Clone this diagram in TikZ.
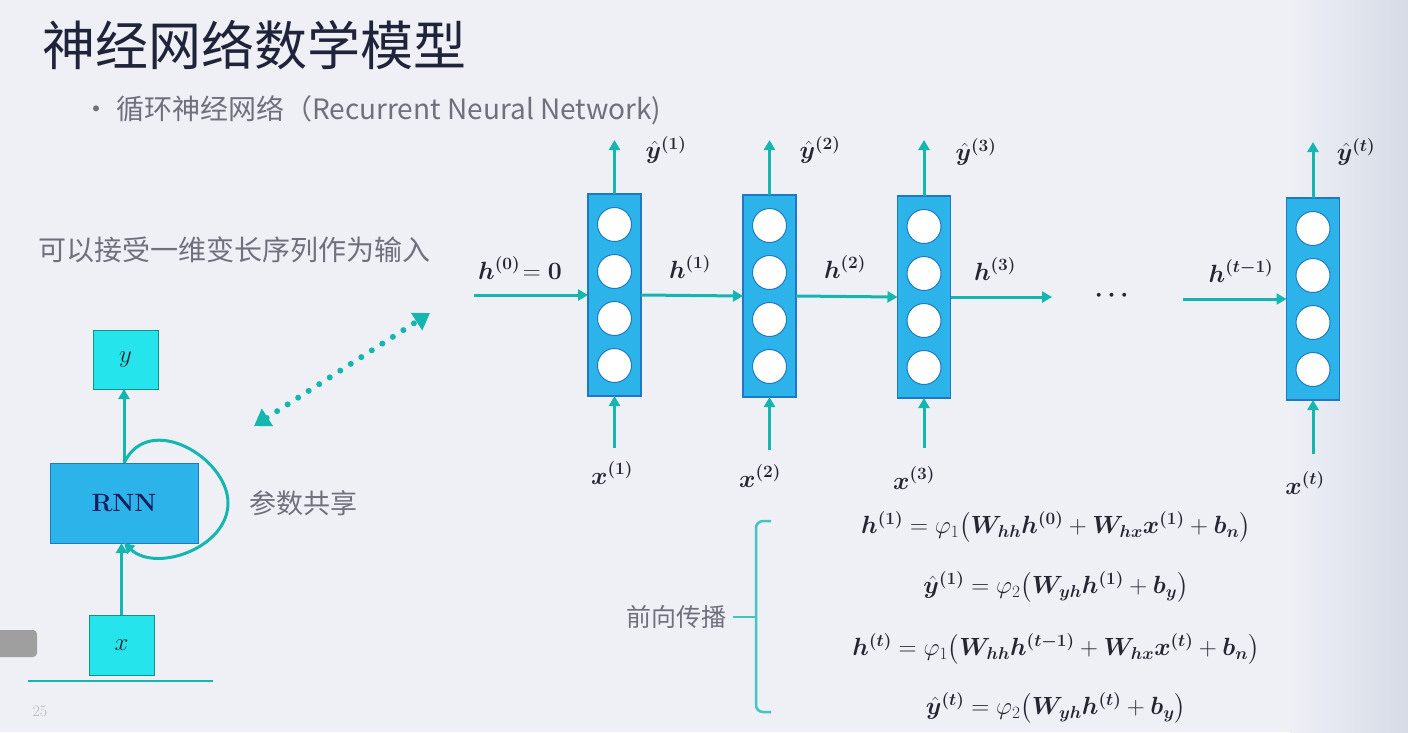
\documentclass[tikz,border=0pt]{standalone}
\usepackage{fontspec}
\usepackage{amsmath,bm}
\newfontfamily\cjk{Noto Sans CJK SC}
\usetikzlibrary{arrows.meta, positioning, calc}

\definecolor{bgl}{RGB}{238,240,246}
\definecolor{bgr}{RGB}{214,219,230}
\definecolor{teal}{RGB}{20,182,176}
\definecolor{cellfill}{RGB}{44,180,234}
\definecolor{cellline}{RGB}{30,120,195}
\definecolor{cyanbox}{RGB}{38,228,236}
\definecolor{titlec}{RGB}{32,36,58}
\definecolor{greyt}{RGB}{112,112,124}
\definecolor{mathc}{RGB}{38,38,50}
\definecolor{rnnc}{RGB}{18,30,95}

\newcommand{\vsup}[2]{\bm{#1}^{\bm{(#2)}}}
\newcommand{\yhat}[1]{\hat{\bm{y}}^{\bm{(#1)}}}

\begin{document}
\begin{tikzpicture}[x=1pt, y=-1pt,
  every node/.style={inner sep=0pt, outer sep=0pt},
  cell/.style={draw=cellline, line width=1.2pt, fill=cellfill,
               minimum width=53pt, minimum height=202pt},
  unit/.style={circle, draw=cellline, line width=1pt, fill=white, minimum size=34pt},
  sbox/.style={draw=teal!80!black, line width=0.8pt, fill=cyanbox,
               minimum width=65pt, minimum height=59pt,
               font=\fontsize{26}{30}\selectfont, text=mathc},
  wire/.style={line width=3pt, color=teal},
  arr/.style={wire, -{Triangle[length=10pt, width=11pt]}},
  dots/.style={color=teal, line width=6pt, line cap=round, dash pattern=on 0pt off 12.5pt,
               {Triangle[length=16pt, width=20pt]}-{Triangle[length=16pt, width=20pt]}},
  brace/.style={line width=2.5pt, color=teal!80!white, rounded corners=7pt},
  lbl/.style={font=\fontsize{25}{30}\selectfont, text=mathc},
  eq/.style={font=\fontsize{23}{28}\selectfont, text=mathc},
  txt/.style={font=\cjk\fontsize{27}{32}\selectfont, text=greyt}
]
\useasboundingbox (0,0) rectangle (1408,732);
% background
\fill[bgl] (0,0) rectangle (1408,732);
\shade[left color=bgl, right color=bgr] (1290,0) rectangle (1408,732);

% title and text
\node[anchor=west, font=\cjk\fontsize{53}{60}\selectfont, text=titlec] (title) at (42,45) {神经网络数学模型};
\node[anchor=west, font=\cjk\fontsize{28}{32}\selectfont, text=greyt] (sub) at (82,110)
  {•\ 循环神经网络（Recurrent Neural Network)};
\node[txt, anchor=west, font=\cjk\fontsize{28}{32}\selectfont] (note) at (38,250) {可以接受一维变长序列作为输入};
\node[txt, anchor=west] (share) at (249,503) {参数共享};

% folded rnn
\node[sbox] (yb) at (125.5,359.5) {$y$};
\node[draw=cellline, line width=0.8pt, fill=cellfill, minimum width=148pt, minimum height=80pt,
      font=\fontsize{25}{28}\selectfont\bfseries, text=rnnc] (rnn) at (124,503) {RNN};
\node[sbox, minimum height=60pt] (xb) at (121.5,645) {$x$};
\draw[arr] (xb.north) -- (xb.north |- rnn.south);
\draw[arr] (rnn.north) -- (rnn.north |- yb.south);
\coordinate (loopr) at ([xshift=30pt]rnn.east);
\draw[arr] (rnn.north) .. controls +(25,-52) and +(0,-45) .. (loopr)
  .. controls +(0,45) and +(32,30) .. (rnn.south);
\draw[teal, line width=1.6pt] (28,681) -- (213,681);
\node[font=\fontsize{16}{18}\selectfont, text=greyt!45!bgl] (page) at (40,711) {25};
\fill[gray!75, rounded corners=4pt] (-6,630) rectangle (37,657);

% dotted link
\coordinate (dl) at (254,426);
\coordinate (dr) at (430,313);
\draw[dots] (dl) -- (dr);

% unrolled cells
\node[cell] (c1) at (614.5,295) {};
\node[cell] (c2) at (769.5,296) {};
\node[cell] (c3) at (924,297) {};
\node[cell] (c4) at (1313,299) {};
\foreach \c in {c1,c2,c3,c4}
  \foreach \s in {70.5,23.5,-23.5,-70.5}
    \node[unit] at ([yshift=\s pt]\c.center) {};

% outputs
\draw[arr] (c1.north) -- ([yshift=54pt]c1.north);
\draw[arr] (c2.north) -- ([yshift=55pt]c2.north);
\draw[arr] (c3.north) -- ([yshift=56pt]c3.north);
\draw[arr] (c4.north) -- ([yshift=56pt]c4.north);
\node[lbl] (y1) at (666,150) {$\yhat{1}$};
\node[lbl] (y2) at (820,150) {$\yhat{2}$};
\node[lbl] (y3) at (976,152) {$\yhat{3}$};
\node[lbl] (yt) at (1356,152) {$\yhat{t}$};

% inputs
\draw[arr] ([yshift=-52pt]c1.south) -- (c1.south);
\draw[arr] ([yshift=-53pt]c2.south) -- (c2.south);
\draw[arr] ([yshift=-50pt]c3.south) -- (c3.south);
\draw[arr] ([yshift=-54pt]c4.south) -- (c4.south);
\node[lbl] (x1) at (612,473) {$\vsup{x}{1}$};
\node[lbl] (x2) at (760,476) {$\vsup{x}{2}$};
\node[lbl] (x3) at (914,478) {$\vsup{x}{3}$};
\node[lbl] (xt) at (1305,483) {$\vsup{x}{t}$};

% hidden states
\coordinate (hin) at (474,295);
\coordinate (hout) at (1052,297);
\coordinate (hlast) at (1183,299);
\draw[arr] (hin) -- (c1.west);
\draw[arr] (c1.east) -- (c2.west);
\draw[arr] (c2.east) -- (c3.west);
\draw[arr] (c3.east) -- (hout);
\draw[arr] (hlast) -- (c4.west);
\node[lbl] (h0) at (520,268) {$\vsup{h}{0}\!= \bm{0}$};
\node[lbl] (h1) at (690,267) {$\vsup{h}{1}$};
\node[lbl] (h2) at (845,267) {$\vsup{h}{2}$};
\node[lbl] (h3) at (995,269) {$\vsup{h}{3}$};
\node[lbl] (ht) at (1241,271) {$\vsup{h}{t-1}$};
\node[lbl] (more) at (1114,296) {$\bm{\cdots}$};

% forward pass
\node[font=\cjk\fontsize{25}{30}\selectfont, text=greyt, anchor=east] (fw) at (726,617) {前向传播};
\coordinate (btop) at (771,521);
\coordinate (bbot) at (771,712);
\coordinate (bmid) at (756,617);
\draw[brace] (btop) -- (756,521) -- (756,712) -- (bbot);
\draw[brace] ([xshift=7pt]fw.east) -- (bmid);
\node[eq] (e1) at (1056,527)
  {$\vsup{h}{1} = \varphi_1\big(\bm{W}_{\bm{hh}}\vsup{h}{0} + \bm{W}_{\bm{hx}}\vsup{x}{1} + \bm{b}_{\bm{n}}\big)$};
\node[eq] (e2) at (1056,587)
  {$\yhat{1} = \varphi_2\big(\bm{W}_{\bm{yh}}\vsup{h}{1} + \bm{b}_{\bm{y}}\big)$};
\node[eq] (e3) at (1056,649)
  {$\vsup{h}{t} = \varphi_1\big(\bm{W}_{\bm{hh}}\vsup{h}{t-1} + \bm{W}_{\bm{hx}}\vsup{x}{t} + \bm{b}_{\bm{n}}\big)$};
\node[eq] (e4) at (1056,708)
  {$\yhat{t} = \varphi_2\big(\bm{W}_{\bm{yh}}\vsup{h}{t} + \bm{b}_{\bm{y}}\big)$};
\end{tikzpicture}
\end{document}
